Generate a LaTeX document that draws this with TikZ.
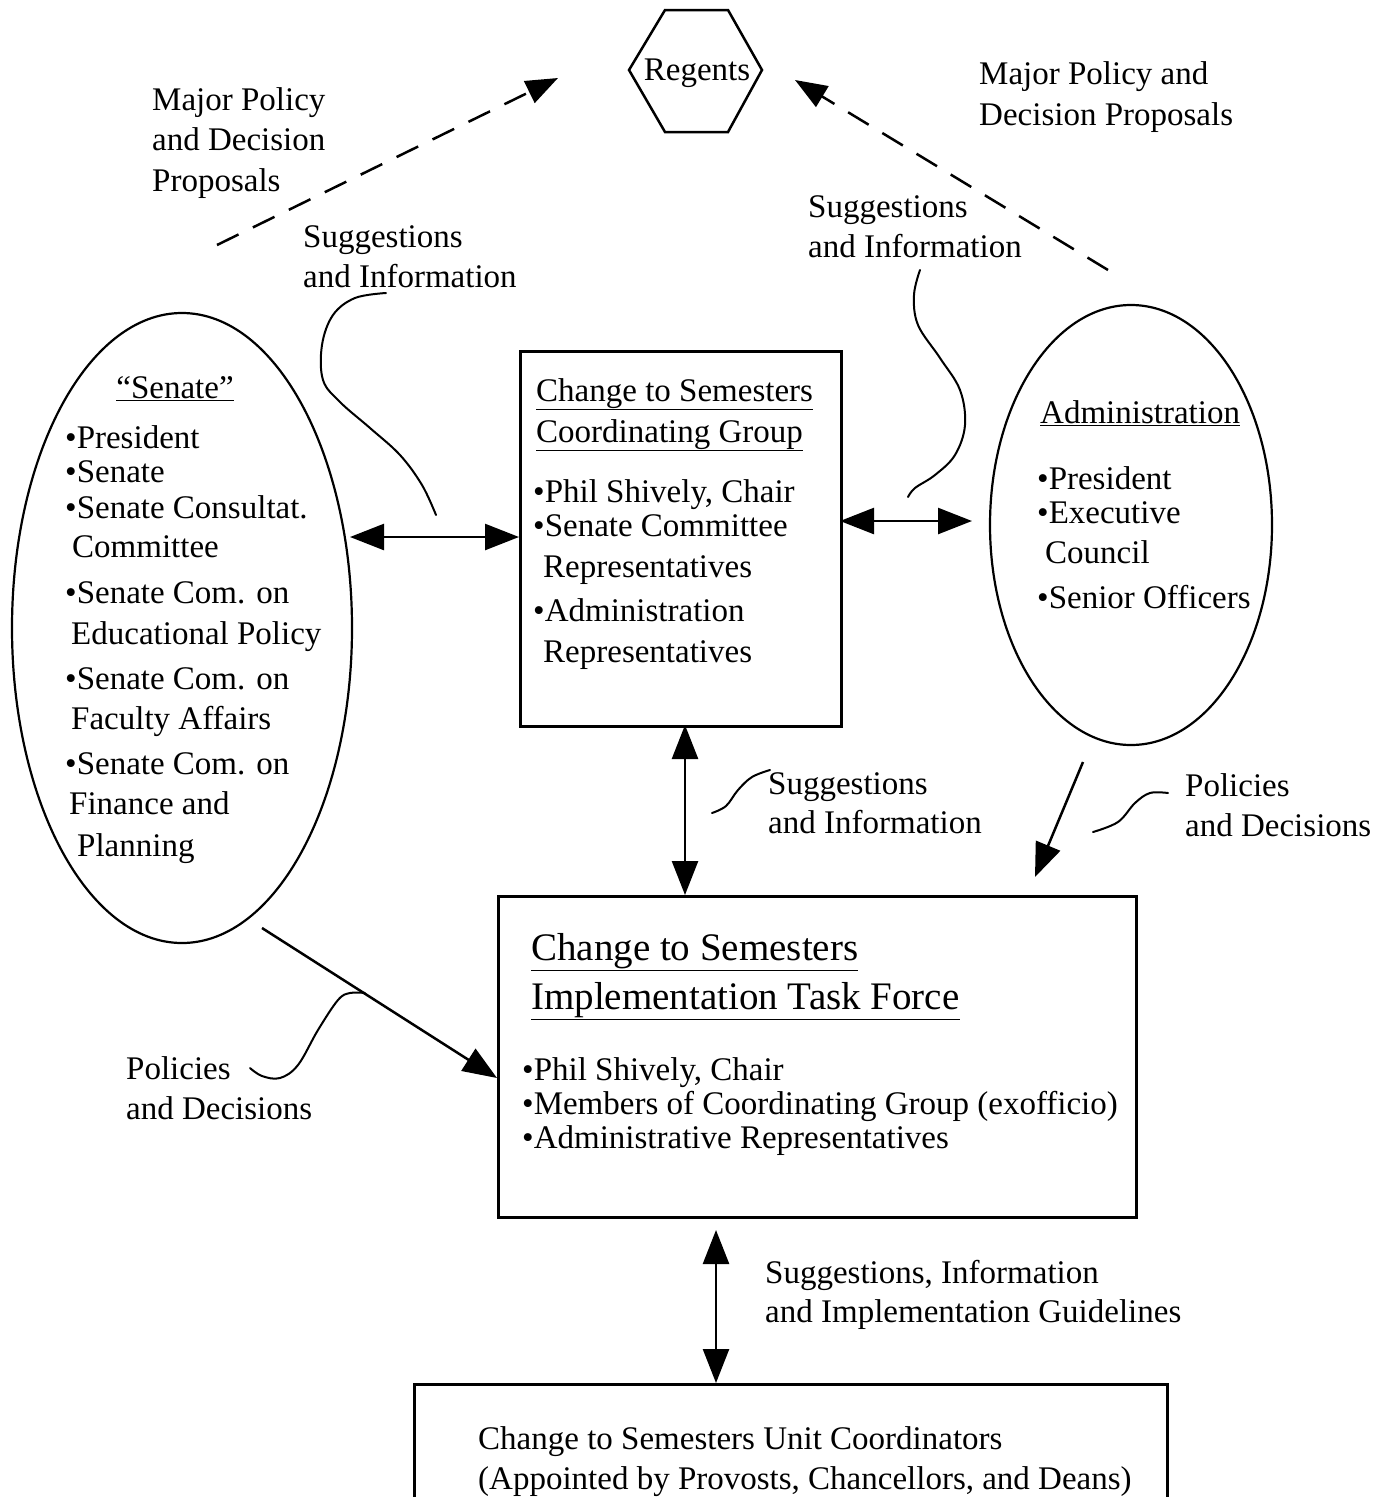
\documentclass[tikz,border=0pt]{standalone}
\usepackage{fontspec}
\setmainfont{Liberation Serif}
\usetikzlibrary{arrows.meta,shapes.geometric}
\tikzset{
  lbl/.style={anchor=base west, inner sep=0pt, font=\fontsize{33}{40}\selectfont},
  big/.style={anchor=base west, inner sep=0pt, font=\fontsize{39}{46}\selectfont},
  boxs/.style={draw, line width=2.5pt, rectangle, anchor=north west, inner sep=0pt},
  ell/.style={draw, line width=2.2pt, ellipse, inner sep=0pt},
  conn/.style={line width=2.5pt, -{Triangle[length=34pt,width=26pt]}},
  dconn/.style={line width=2.5pt, {Triangle[length=34pt,width=26pt]}-{Triangle[length=34pt,width=26pt]}},
  dashconn/.style={line width=2.5pt, dash pattern=on 24pt off 16pt, -{Triangle[length=32pt,width=24pt]}},
  leader/.style={line width=2pt, line cap=round, line join=round}
}
\newcommand\tl[4]{\node[lbl] (#1) at (#2,#3) {#4};}
\begin{document}
\begin{tikzpicture}[x=1pt,y=-1pt]
\useasboundingbox (0,0) rectangle (1385,1497);
\fill[white] (0,0) rectangle (1385,1497);

% Regents hexagon
\draw[line width=2.5pt, line join=miter] (665,10) -- (728,10) -- (762,70) -- (728,132) -- (665,132) -- (629,70) -- cycle;
\node[anchor=base, inner sep=0pt, font=\fontsize{33}{40}\selectfont] (regents) at (697,80) {Regents};

% shapes
\node[ell, minimum width=340pt, minimum height=630pt] (senate) at (182,628) {};
\node[ell, minimum width=282pt, minimum height=440pt] (admin) at (1131,525) {};
\node[boxs, minimum width=321pt, minimum height=375pt] (coord) at (519,350) {};
\node[boxs, minimum width=638pt, minimum height=321pt] (task) at (497,895) {};
\node[boxs, minimum width=753pt, minimum height=160pt] (unit) at (413,1383) {};

% labels top
\tl{lm1}{152}{110}{Major Policy}
\tl{lm2}{152}{150}{and Decision}
\tl{lm3}{152}{191}{Proposals}
\tl{rm1}{979}{84}{Major Policy and}
\tl{rm2}{979}{125}{Decision Proposals}
\tl{ls1}{303}{247}{Suggestions}
\tl{ls2}{303}{287}{and Information}
\tl{rs1}{808}{217}{Suggestions}
\tl{rs2}{808}{257}{and Information}

% Senate text
\node[anchor=base, inner sep=0pt, font=\fontsize{33}{40}\selectfont] (sen0) at (175,398) {\underline{“Senate”}};
\tl{sen1}{65}{448}{•President}
\tl{sen2}{65}{482}{•Senate}
\tl{sen3}{65}{518}{•Senate Consultat.}
\tl{sen4}{72}{557}{Committee}
\tl{sen5}{65}{603}{•Senate Com. on}
\tl{sen6}{71}{644}{Educational Policy}
\tl{sen7}{65}{689}{•Senate Com. on}
\tl{sen8}{71}{729}{Faculty Affairs}
\tl{sen9}{65}{774}{•Senate Com. on}
\tl{sen10}{69}{814}{Finance and}
\tl{sen11}{77}{856}{Planning}

% Coordinating group text
\tl{cg1}{536}{401}{\underline{Change to Semesters}}
\tl{cg2}{536}{442}{\underline{Coordinating Group}}
\tl{cg3}{533}{502}{•Phil Shively, Chair}
\tl{cg4}{533}{536}{•Senate Committee}
\tl{cg5}{543}{577}{Representatives}
\tl{cg6}{533}{621}{•Administration}
\tl{cg7}{543}{662}{Representatives}

% Administration text
\tl{ad1}{1040}{423}{\underline{Administration}}
\tl{ad2}{1037}{489}{•President}
\tl{ad3}{1037}{523}{•Executive}
\tl{ad4}{1045}{563}{Council}
\tl{ad5}{1037}{608}{•Senior Officers}

% middle labels
\tl{ms1}{768}{794}{Suggestions}
\tl{ms2}{768}{833}{and Information}
\tl{rp1}{1185}{796}{Policies}
\tl{rp2}{1185}{836}{and Decisions}

% Task force text
\node[big] (tf1) at (531,960) {\underline{Change to Semesters}};
\node[big] (tf2) at (531,1009) {\underline{Implementation Task Force}};
\tl{tf3}{522}{1080}{•Phil Shively, Chair}
\tl{tf4}{522}{1114}{•Members of Coordinating Group (exofficio)}
\tl{tf5}{522}{1148}{•Administrative Representatives}

\tl{lp1}{126}{1079}{Policies}
\tl{lp2}{126}{1119}{and Decisions}

\tl{bs1}{765}{1283}{Suggestions, Information}
\tl{bs2}{765}{1322}{and Implementation Guidelines}

\tl{un1}{478}{1449}{Change to Semesters Unit Coordinators}
\tl{un2}{478}{1489}{(Appointed by Provosts, Chancellors, and Deans)}

% connector end points
\coordinate (d1s) at (217,245); \coordinate (d1e) at (558,78);
\coordinate (d2s) at (1108,270); \coordinate (d2e) at (795,80);
\coordinate (sc1) at (350,537); \coordinate (sc2) at (519,537);
\coordinate (ca1) at (840,521); \coordinate (ca2) at (972,521);
\coordinate (ct1) at (685,725); \coordinate (ct2) at (685,895);
\coordinate (at1) at (1083,762); \coordinate (at2) at (1035,877);
\coordinate (st1) at (262,928); \coordinate (st2) at (497,1078);
\coordinate (tu1) at (716,1230); \coordinate (tu2) at (716,1383);

\draw[dashconn] (d1s) -- (d1e);
\draw[dashconn] (d2s) -- (d2e);
\draw[dconn] (sc1) -- (sc2);
\draw[dconn] (ca1) -- (ca2);
\draw[dconn] (ct1) -- (ct2);
\draw[conn] (at1) -- (at2);
\draw[conn] (st1) -- (st2);
\draw[dconn] (tu1) -- (tu2);

% leader curves
\draw[leader] plot[smooth, tension=0.6] coordinates {(386,293) (355,298) (333,315) (322,345) (323,380) (340,402) (370,428) (400,455) (422,485) (436,515)};
\draw[leader] plot[smooth, tension=0.6] coordinates {(920,270) (914,295) (918,325) (940,358) (960,390) (965,425) (955,455) (935,475) (915,488) (908,497)};
\draw[leader] plot[smooth, tension=0.6] coordinates {(770,770) (752,777) (738,790) (726,806) (712,813)};
\draw[leader] plot[smooth, tension=0.6] coordinates {(1168,793) (1150,793) (1135,803) (1118,822) (1093,832)};
\draw[leader] plot[smooth, tension=0.6] coordinates {(250,1068) (262,1076) (280,1078) (298,1065) (318,1030) (338,1000) (350,993) (365,993)};
\end{tikzpicture}
\end{document}
